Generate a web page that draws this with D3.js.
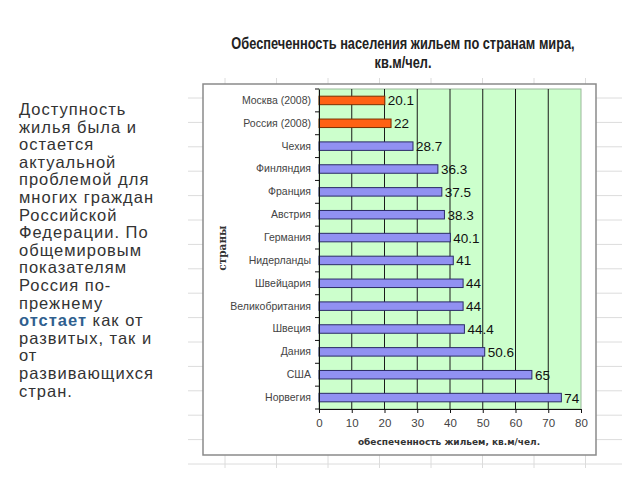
<!DOCTYPE html>
<html>
<head>
<meta charset="utf-8">
<script src="https://cdn.jsdelivr.net/npm/d3@7"></script>
<style>
  body { margin: 0; background: #fff; }
</style>
</head>
<body>
<div id="chart"></div>
<script>
const countries = ["Москва (2008)", "Россия (2008)", "Чехия", "Финляндия", "Франция", "Австрия",
    "Германия", "Нидерланды", "Швейцария", "Великобритания", "Швеция", "Дания", "США", "Норвегия"];
const housing = [20.1, 22, 28.7, 36.3, 37.5, 38.3, 40.1, 41, 44, 44, 44.4, 50.6, 65, 74];
const russian = ["Москва (2008)", "Россия (2008)"];
const xTicks = [0, 10, 20, 30, 40, 50, 60, 70, 80];
const titleLines = ["Обеспеченность населения жильем по странам мира,", "кв.м/чел."];
const sideText = ["Доступность", "жилья была и", "остается", "актуальной", "проблемой для",
    "многих граждан", "Российской", "Федерации. По", "общемировым", "показателям",
    "Россия по-", "прежнему", "@отстает@ как от", "развитых, так и", "от",
    "развивающихся", "стран."];

var width = 640, height = 480;

var svg = d3.select("#chart")
    .append("svg")
    .attr("width", width)
    .attr("height", height);

// faint spreadsheet grid behind the chart picture
var bg = svg.append("g").attr("stroke", "#dcdcdc").attr("stroke-width", 1);
bg.selectAll("line.h")
    .data(d3.range(98, 470, 24.4))
    .enter().append("line")
    .attr("x1", 188).attr("x2", 622)
    .attr("y1", d => d).attr("y2", d => d);
bg.selectAll("line.v")
    .data(d3.range(225, 600, 51.5))
    .enter().append("line")
    .attr("x1", d => d).attr("x2", d => d)
    .attr("y1", 78).attr("y2", 468);

// chart frame
svg.append("rect")
    .attr("x", 203).attr("y", 84)
    .attr("width", 393).attr("height", 371)
    .attr("fill", "#fff")
    .attr("stroke", "#8a8a8a")
    .attr("stroke-width", 1.5);

// title (condensed look)
svg.append("g")
    .attr("transform", "translate(403,0)scale(0.8,1)")
    .selectAll("text")
    .data(titleLines)
    .enter().append("text")
    .attr("x", 0)
    .attr("y", (d, i) => 49 + i * 19)
    .attr("text-anchor", "middle")
    .style("font-family", "'Liberation Sans', Arial, sans-serif")
    .style("font-size", "16px")
    .style("font-weight", "bold")
    .attr("fill", "#222")
    .text(d => d);

// scales
var x = d3.scaleLinear()
    .domain([0, 80])
    .range([319, 581]);

var y = d3.scaleBand()
    .domain(countries)
    .range([89, 409]);

var barH = 8.5;

// plot background
svg.append("rect")
    .attr("x", x(0)).attr("y", 89)
    .attr("width", x(80) - x(0)).attr("height", 320)
    .attr("fill", "#ccffcc")
    .attr("stroke", "#9ab89a")
    .attr("stroke-width", 1);

// vertical gridlines
svg.append("g")
    .selectAll("line")
    .data(xTicks.slice(1, -1))
    .enter().append("line")
    .attr("x1", d => x(d)).attr("x2", d => x(d))
    .attr("y1", 89).attr("y2", 409)
    .attr("stroke", "#1a1a1a")
    .attr("stroke-width", 1);

// bars
svg.append("g")
    .selectAll("rect")
    .data(countries)
    .enter().append("rect")
    .attr("x", x(0))
    .attr("y", d => y(d) + y.bandwidth() / 2 - barH / 2)
    .attr("width", (d, i) => x(housing[i]) - x(0))
    .attr("height", barH)
    .attr("fill", d => russian.includes(d) ? "#ff6214" : "#9191f2")
    .attr("stroke", d => russian.includes(d) ? "#7a3000" : "#2b2b66")
    .attr("stroke-width", 1);

// value labels
svg.append("g")
    .selectAll("text")
    .data(countries)
    .enter().append("text")
    .attr("x", (d, i) => x(housing[i]) + 3)
    .attr("y", d => y(d) + y.bandwidth() / 2 + 5)
    .style("font-family", "'Liberation Sans', Arial, sans-serif")
    .style("font-size", "13.5px")
    .attr("fill", "#111")
    .text((d, i) => housing[i]);

// X axis
var xAxis = svg.append("g")
    .attr("transform", "translate(0,409)")
    .call(d3.axisBottom(x).tickValues(xTicks).tickSize(4).tickPadding(6));
xAxis.select(".domain").attr("stroke", "#111");
xAxis.selectAll(".tick line").attr("stroke", "#111");
xAxis.selectAll("text")
    .style("font-family", "'Liberation Sans', Arial, sans-serif")
    .style("font-size", "11.5px")
    .attr("fill", "#444");

// Y axis
var yAxis = svg.append("g")
    .attr("transform", "translate(" + x(0) + ",0)")
    .call(d3.axisLeft(y).tickSize(0).tickPadding(8));
yAxis.select(".domain").attr("stroke", "#111");
yAxis.selectAll("text")
    .style("font-family", "'Liberation Sans', Arial, sans-serif")
    .style("font-size", "10.5px")
    .attr("fill", "#444");

// ticks between categories
svg.append("g")
    .selectAll("line")
    .data(countries.map(d => y(d)).concat([409]))
    .enter().append("line")
    .attr("x1", x(0) - 4).attr("x2", x(0))
    .attr("y1", d => d).attr("y2", d => d)
    .attr("stroke", "#111");

// axis titles
svg.append("text")
    .attr("x", 449)
    .attr("y", 445)
    .attr("text-anchor", "middle")
    .style("font-family", "'DejaVu Sans', Verdana, sans-serif")
    .style("font-size", "9px")
    .style("font-weight", "bold")
    .attr("fill", "#333")
    .text("обеспеченность жильем, кв.м/чел.");

svg.append("text")
    .attr("transform", "translate(226,248)rotate(-90)")
    .attr("text-anchor", "middle")
    .style("font-family", "'DejaVu Serif', serif")
    .style("font-size", "10.5px")
    .style("font-weight", "bold")
    .attr("fill", "#333")
    .text("страны");

// side text
var side = svg.append("g")
    .style("font-family", "'Liberation Sans', Arial, sans-serif")
    .style("font-size", "16.5px")
    .style("letter-spacing", "1px")
    .attr("fill", "#333");

sideText.forEach(function(line, i) {
    var t = side.append("text")
        .attr("x", 19)
        .attr("y", 115 + i * 17.6);
    line.split("@").forEach(function(part, j) {
        if (part === "") return;
        t.append("tspan")
            .style("font-weight", j === 1 ? "bold" : "normal")
            .attr("fill", j === 1 ? "#2f5f8f" : "#333")
            .text(part);
    });
});
</script>
</body>
</html>
